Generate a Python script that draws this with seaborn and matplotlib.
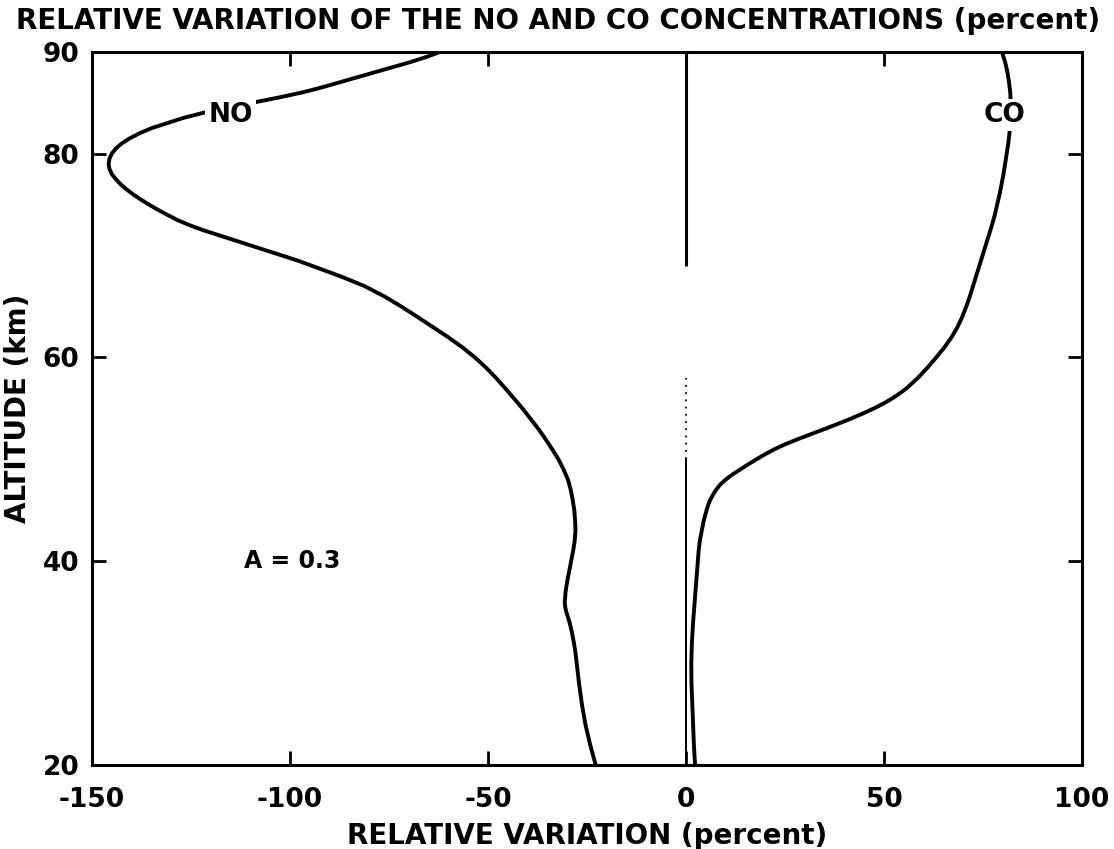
import matplotlib
matplotlib.use("Agg")
import matplotlib.pyplot as plt
import seaborn as sns
import pandas as pd

# ---- data ----
no_alt = [90, 89.5, 89, 88.5, 88, 87.5, 87, 86.5, 86, 85.5, 85, 84.5, 84, 83.5, 83, 82.5,
          82, 81.5, 81, 80.5, 80, 79.5, 79, 78.5, 78, 77.5, 77, 76.5, 76, 75.5, 75, 74.5,
          74, 73.5, 73, 72.5, 72, 71.5, 71, 70.5, 70, 69.5, 69, 68.5, 68, 67.5, 67, 66,
          65, 64, 63, 62, 61, 60, 59, 58, 57, 56, 55, 54, 53, 52, 51, 50, 49, 48, 47, 46,
          45, 44, 43, 42, 41, 40, 39, 38, 37, 36, 35.5, 35, 34.5, 34, 33, 32, 31, 30, 28,
          26, 24, 22, 20]
no_var = [-62, -65.5, -69.5, -74, -78.5, -83, -87.5, -92, -97, -103, -109.5, -116, -122,
          -127, -131, -135, -138, -140.5, -142.5, -144, -145, -145.6, -145.8, -145.6, -145,
          -144, -142.8, -141.3, -139.6, -137.7, -135.6, -133.4, -131, -128.5, -125.5, -122,
          -118, -114, -110, -106, -102, -98, -94.5, -91, -87.5, -84.3, -81.2, -76.2, -71.9,
          -67.9, -64, -60.1, -56.5, -53.3, -50.5, -48, -45.7, -43.5, -41.3, -39.3, -37.3,
          -35.5, -33.8, -32.2, -30.9, -29.8, -29.1, -28.6, -28.2, -28, -27.9, -28.1, -28.5,
          -29, -29.5, -30, -30.4, -30.6, -30.5, -30.2, -29.8, -29.4, -28.8, -28.3, -27.9,
          -27.6, -27, -26.3, -25.4, -24.2, -22.8]

co_alt = [90, 89, 88, 87, 86, 85, 84, 83, 82, 81, 80, 79, 78, 77, 76, 75, 74, 73, 72, 71,
          70, 69, 68, 67, 66, 65, 64, 63, 62, 61, 60, 59, 58, 57, 56.5, 56, 55.5, 55, 54.5,
          54, 53.5, 53, 52.5, 52, 51.5, 51, 50.5, 50, 49.5, 49, 48.5, 48, 47.5, 47, 46.5,
          46, 45.5, 45, 44, 43, 42, 41, 40, 38, 36, 34, 32, 30, 28, 26, 24, 22, 20]
co_var = [79.8, 80.6, 81.2, 81.6, 81.9, 82, 82, 81.9, 81.7, 81.4, 81, 80.6, 80.2, 79.7,
          79.2, 78.6, 78, 77.3, 76.5, 75.7, 74.9, 74.1, 73.3, 72.5, 71.7, 70.8, 69.8, 68.6,
          67.1, 65.3, 63.2, 61, 58.6, 55.8, 54.1, 52.2, 50, 47.5, 44.7, 41.7, 38.5, 35.2,
          31.8, 28.4, 25.2, 22.4, 20, 17.8, 15.7, 13.7, 11.7, 10, 8.6, 7.6, 6.8, 6.1, 5.6,
          5.2, 4.5, 4, 3.5, 3.2, 3, 2.6, 2.2, 1.8, 1.5, 1.35, 1.4, 1.6, 1.8, 2, 2.3]

zero_solid_segments = [(69, 90), (20, 50)]
zero_dotted_segment = (50, 58)

x_ticks = [-150, -100, -50, 0, 50, 100]
y_ticks = [20, 40, 60, 80, 90]

title = "RELATIVE VARIATION OF THE NO AND CO CONCENTRATIONS (percent)"
xlabel = "RELATIVE VARIATION (percent)"
ylabel = "ALTITUDE (km)"

# ---- figure ----
sns.set_style("ticks")
plt.rcParams["font.family"] = ["DejaVu Sans"]
plt.rcParams["font.weight"] = "bold"
for k in ["text.color", "axes.labelcolor", "xtick.color", "ytick.color"]:
    plt.rcParams[k] = "black"

fig = plt.figure(figsize=(11.14, 8.49), dpi=100)
ax = fig.add_axes([0.0826, 0.099, 0.8886, 0.840])

df_no = pd.DataFrame({"x": no_var, "y": no_alt})
df_co = pd.DataFrame({"x": co_var, "y": co_alt})
sns.lineplot(data=df_no, x="x", y="y", sort=False, estimator=None, color="black",
             linewidth=2.8, ax=ax)
sns.lineplot(data=df_co, x="x", y="y", sort=False, estimator=None, color="black",
             linewidth=2.8, ax=ax)

for lo, hi in zero_solid_segments:
    ax.vlines(0, lo, hi, color="black", linewidth=2.2 if hi > 60 else 1.4)
ax.vlines(0, zero_dotted_segment[0], zero_dotted_segment[1], color="black",
          linewidth=1.3, linestyles=(0, (1, 3)))

ax.set_xlim(-150, 100)
ax.set_ylim(20, 90)
ax.set_xticks(x_ticks)
ax.set_yticks(y_ticks)
ax.set_xticklabels([str(t) for t in x_ticks], fontweight="bold")
ax.set_yticklabels([str(t) for t in y_ticks], fontweight="bold")
ax.tick_params(direction="in", length=10, width=2, labelsize=19, top=True, right=True,
               labeltop=False, labelright=False)
ax.tick_params(axis="x", pad=16)
ax.tick_params(axis="y", pad=9)
for s in ax.spines.values():
    s.set_linewidth(2.2)
    s.set_color("black")

bbox = dict(facecolor="white", edgecolor="none", pad=2)
ax.text(-115, 83.8, "NO", fontsize=19, fontweight="bold", ha="center", va="center",
        bbox=bbox)
ax.text(80.5, 83.8, "CO", fontsize=19, fontweight="bold", ha="center", va="center",
        bbox=bbox)
ax.text(-99.5, 40, "A = 0.3", fontsize=17, fontweight="bold", ha="center", va="center")

ax.set_xlabel(xlabel, fontsize=20, fontweight="bold", labelpad=6)
ax.set_ylabel(ylabel, fontsize=20, fontweight="bold", labelpad=8)
fig.text(0.501, 0.975, title, fontsize=20, fontweight="bold", ha="center", va="center")

fig.savefig("out.png", dpi=100)
